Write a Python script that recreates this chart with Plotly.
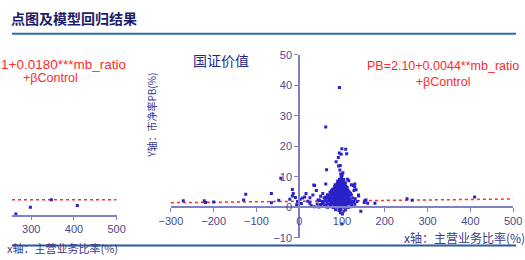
import plotly.graph_objects as go

# ---------------- data ----------------
# right chart (国证价值): scattered points
scatter_x = [-271, -222, -219, -200, -125, -130, -65, -65, -48, -43, -22, -16, -14, -9, -16, -4, -6,
             2, 5, 8, 13, 16, 20, 25, 25, 28, 32, 36, 40, 34, 44, 47, 50, 55, 62, 62, 64, 62, 94,
             99.6, 108.6, 93.6, 98, 110.9, 91.4, 86.2, 95.9, 92, 95, 99.6, 113, 116, 122, 126, 128,
             129.6, 130, 133, 138.6, 139, 144, 156, 152, 160, 154, 177, 126, 252, 264, 410, 99.6]
scatter_y = [2.1, 2.1, 1.6, 1.7, 4.3, 2.4, 4.5, 1.5, 2.3, 9.5, 2.6, 5.8, 4.5, 3.2, 3.7, 1.9, 0.8,
             2.6, 1.2, 3.0, 3.4, 4.5, 2.0, 3.1, 1.3, 0.5, 4.0, 7.1, 5.5, 7.3, 2.4, 2.4, 3.6, 4.5, 3.4, 7.6, 12.3, 26.3, 39.2,
             19.2, 19.0, 17.8, 17.4, 17.5, 16.3, 14.9, 13.7, 13.5, 12.2, 10.7, 9.2, 8.7, 7.4, 7.1, 5.5,
             6.6, 7.6, 5.7, 4.0, 3.7, -1.3, 2.4, 1.6, 1.3, 2.2, 1.3, 1.9, 2.8, 2.3, 3.4, -5.5]

# right chart: dense cluster around mb_ratio ~ 100
cluster_x = [97, 100, 102, 98,
             94, 96, 99, 101, 104, 90,
             89, 92, 95, 97, 100, 103, 106, 108, 84,
             83, 87, 90, 93, 95, 98, 101, 103, 105, 109, 112,
             78, 82, 85, 88, 91, 93, 96, 98, 100, 102, 104, 107, 110, 114, 75,
             72, 76, 80, 83, 86, 88, 90, 92, 94, 96, 98, 100, 102, 104, 106, 109, 112, 117, 120,
             66, 70, 74, 78, 81, 84, 87, 89, 91, 93, 95, 97, 99, 101, 103, 105, 107, 110, 113, 117, 122,
             58, 63, 68, 72, 76, 79, 82, 85, 87, 89, 91, 93, 95, 97, 99, 101, 103, 105, 108, 111, 115, 119, 125, 131,
             48, 54, 60, 65, 70, 74, 78, 81, 84, 86, 88, 90, 92, 94, 96, 98, 100, 102, 104, 106, 109, 112, 116, 121, 127, 135,
             42, 50, 56, 62, 68, 73, 77, 81, 84, 87, 90, 93, 96, 99, 102, 105, 108, 112, 117, 123, 130,
             35, 46, 58, 66, 74, 80, 86, 91, 95, 100, 104, 109, 114, 120,
             85, 93, 98, 103, 108, 96, 101]
cluster_y = [10.9, 10.4, 11.3, 9.8,
             9.2, 8.9, 9.4, 8.8, 9.1, 8.6,
             7.9, 8.2, 7.7, 8.1, 7.8, 8.3, 7.6, 8.0, 7.4,
             6.8, 7.1, 6.7, 7.2, 6.9, 7.0, 6.6, 7.3, 6.8, 7.0, 6.5,
             5.9, 6.2, 5.8, 6.3, 6.0, 5.7, 6.1, 5.8, 6.3, 5.9, 6.2, 5.7, 6.0, 5.6, 5.4,
             4.9, 5.1, 4.8, 5.2, 4.9, 5.3, 4.7, 5.0, 5.2, 4.8, 5.1, 4.9, 5.3, 4.7, 5.0, 5.2, 4.8, 5.0, 4.6,
             4.1, 3.8, 4.2, 3.9, 4.3, 4.0, 3.7, 4.2, 3.9, 4.3, 4.0, 3.8, 4.2, 3.9, 4.1, 3.7, 4.2, 3.9, 4.1, 3.8, 4.0,
             3.1, 2.8, 3.2, 2.9, 3.3, 2.7, 3.0, 3.2, 2.8, 3.1, 2.9, 3.3, 2.8, 3.1, 2.9, 3.2, 2.8, 3.0, 3.3, 2.9, 3.1, 2.7, 3.0, 2.8,
             2.2, 1.9, 2.1, 1.8, 2.2, 1.9, 2.3, 2.0, 1.8, 2.2, 1.9, 2.1, 1.8, 2.2, 2.0, 1.8, 2.1, 1.9, 2.2, 1.8, 2.1, 1.9, 2.2, 1.8, 2.0, 1.9,
             1.1, 0.9, 1.2, 0.8, 1.1, 0.9, 1.2, 0.8, 1.1, 0.9, 1.2, 0.8, 1.0, 1.2, 0.9, 1.1, 0.8, 1.0, 1.2, 0.9, 1.0,
             0.2, 0.1, 0.3, 0.0, 0.2, -0.1, 0.2, 0.1, -0.2, 0.3, 0.0, 0.2, -0.1, 0.2,
             -0.8, -1.1, -0.7, -1.3, -0.9, -1.8, -2.2]

# right chart: fitted line
fit_x = [-300, 500]
fit_y = [1.5, 2.7]

# left (cut-off) chart
left_x = [264, 298, 347, 408]
left_y = [0.3, 2.5, 5.0, 3.1]
left_fit_x = [255, 500]
left_fit_y = [5.0, 5.0]

right_xticks = [-300, -200, -100, 0, 100, 200, 300, 400, 500]
right_yticks = [-10, 0, 10, 20, 30, 40, 50]
left_xticks = [300, 400, 500]

header_text = "点图及模型回归结果"
panel_title = "国证价值"
right_eq = "PB=2.10+0.0044**mb_ratio<br>+βControl"
left_eq_line1 = "1+0.0180***mb_ratio"
left_eq_line2 = "+βControl"
y_title = "Y轴：市净率PB(%)"
x_title = "x轴：主营业务比率(%)"

# ---------------- styles ----------------
W, H = 525, 260
DOT = "#2a22c8"
RED = "#ff2a2a"
AXIS = "#8080c4"
TICK = "#4a4a8e"
NAVY = "#2a2a86"
LAT = "Liberation Sans, Arial, sans-serif"

def px_x(p):
    return p / W

def px_y(p):
    return (H - p) / H

fig = go.Figure()

# right chart
fig.add_trace(go.Scatter(x=fit_x, y=fit_y, mode="lines",
                         line=dict(color=RED, width=1.5, dash="dot"),
                         xaxis="x", yaxis="y", hoverinfo="skip"))
fig.add_trace(go.Scatter(x=scatter_x + cluster_x, y=scatter_y + cluster_y, mode="markers",
                         marker=dict(color=DOT, size=3, symbol="square", line=dict(width=0)),
                         xaxis="x", yaxis="y"))
# left chart
fig.add_trace(go.Scatter(x=left_fit_x, y=left_fit_y, mode="lines",
                         line=dict(color=RED, width=1.5, dash="dot"),
                         xaxis="x2", yaxis="y2", hoverinfo="skip"))
fig.add_trace(go.Scatter(x=left_x, y=left_y, mode="markers",
                         marker=dict(color=DOT, size=3, symbol="square", line=dict(width=0)),
                         xaxis="x2", yaxis="y2"))

axis_common = dict(showgrid=False, zeroline=False, showline=True, linecolor=AXIS, linewidth=1.5,
                   ticks="outside", tickcolor=AXIS, tickwidth=1.2,
                   tickfont=dict(family=LAT, size=11, color=TICK))

fig.update_layout(
    width=W, height=H, margin=dict(l=0, r=0, t=0, b=0),
    paper_bgcolor="white", plot_bgcolor="rgba(0,0,0,0)", showlegend=False,
    xaxis=dict(domain=[px_x(165.5), px_x(522)], range=[-300, 500], anchor="free",
               position=px_y(211), tickvals=right_xticks, ticklen=4, **axis_common),
    yaxis=dict(domain=[px_y(243), px_y(51)], range=[-10, 50], anchor="free",
               position=px_x(299), tickvals=right_yticks, ticklen=4, **axis_common),
    xaxis2=dict(domain=[0, px_x(109)], range=[255, 500], anchor="y2",
                tickvals=left_xticks, ticklen=3, **axis_common),
    yaxis2=dict(domain=[px_y(219), px_y(59)], range=[0, 50], anchor="x2", visible=False),
)

ann = []
ann.append(dict(text="<b>" + header_text + "</b>", x=px_x(-3), y=px_y(13), xref="paper", yref="paper",
                xanchor="left", yanchor="middle", showarrow=False,
                font=dict(family="Noto Sans CJK SC", size=14, color="#1c1c6a")))
ann.append(dict(text=panel_title, x=px_x(218), y=px_y(57), xref="paper", yref="paper",
                xanchor="center", yanchor="middle", showarrow=False,
                font=dict(family="Noto Sans CJK SC", size=14, color=NAVY)))
ann.append(dict(text=right_eq, x=px_x(449), y=px_y(71), xref="paper", yref="paper",
                xanchor="center", yanchor="middle", showarrow=False, align="center",
                font=dict(family=LAT, size=12.5, color=RED)))
ann.append(dict(text=left_eq_line1, x=px_x(121), y=px_y(61), xref="paper", yref="paper",
                xanchor="right", yanchor="middle", showarrow=False,
                font=dict(family=LAT, size=13.5, color=RED)))
ann.append(dict(text=left_eq_line2, x=px_x(40.5), y=px_y(75), xref="paper", yref="paper",
                xanchor="center", yanchor="middle", showarrow=False,
                font=dict(family=LAT, size=12.5, color=RED)))
ann.append(dict(text=y_title, x=px_x(146), y=px_y(115), xref="paper", yref="paper",
                xanchor="center", yanchor="middle", showarrow=False, textangle=-90,
                font=dict(family="Noto Sans CJK SC", size=10, color="#3a3a8a")))
ann.append(dict(text=x_title, x=px_x(406), y=px_y(243), xref="paper", yref="paper",
                xanchor="left", yanchor="middle", showarrow=False,
                font=dict(family="Noto Sans CJK SC", size=12, color="#3a3a8a")))
ann.append(dict(text=x_title, x=px_x(111), y=px_y(244), xref="paper", yref="paper",
                xanchor="right", yanchor="top", showarrow=False, borderpad=0,
                font=dict(family="Noto Sans CJK SC", size=11, color="#3a3a8a")))
fig.update_layout(annotations=ann)

fig.update_layout(shapes=[
    dict(type="line", xref="paper", yref="paper", x0=0, x1=1, y0=px_y(29), y1=px_y(29),
         line=dict(color="#2f6ea8", width=2)),
    dict(type="line", xref="paper", yref="paper", x0=0, x1=1, y0=px_y(251), y1=px_y(251),
         line=dict(color="#2a5ca0", width=2)),
])

fig.write_html("out.html")
